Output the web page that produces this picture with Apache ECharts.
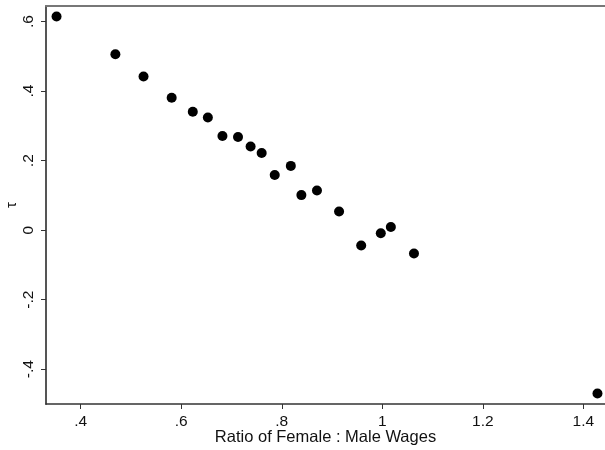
<!DOCTYPE html>
<html>
<head>
<meta charset="utf-8">
<script src="https://cdn.jsdelivr.net/npm/echarts@6/dist/echarts.min.js"></script>
<style>html,body{margin:0;padding:0;background:#fff}#c{width:605px;height:450px}</style>
</head>
<body>
<div id="c"></div>
<script>
const ratio = [0.352, 0.469, 0.525, 0.581, 0.623, 0.653, 0.682, 0.713, 0.738, 0.760, 0.786, 0.818, 0.839, 0.870, 0.914, 0.958, 0.997, 1.017, 1.063, 1.428];
const tau   = [0.615, 0.506, 0.442, 0.381, 0.341, 0.324, 0.271, 0.268, 0.241, 0.222, 0.159, 0.185, 0.101, 0.114, 0.054, -0.044, -0.009, 0.009, -0.067, -0.470];
const xTicks = [0.4, 0.6, 0.8, 1.0, 1.2, 1.4];
const yTicks = [-0.4, -0.2, 0, 0.2, 0.4, 0.6];
const xTitle = 'Ratio of Female : Male Wages';
const yTitle = 'τ';

function fmt(v) {
  let s = (Math.round(v * 10) / 10).toString();
  return s.replace(/^0\./, '.').replace(/^-0\./, '-.');
}

const chart = echarts.init(document.getElementById('c'), null, {renderer: 'canvas'});
const font = 'Liberation Sans, Arial, sans-serif';
chart.setOption({
  animation: false,
  backgroundColor: '#fff',
  grid: {left: 46, right: 0, top: 6, bottom: 46, containLabel: false, outerBoundsMode: 'none'},
  xAxis: [{
    type: 'value', min: 0.331, max: 1.443,
    name: xTitle, nameLocation: 'middle', nameGap: 25, nameMoveOverlap: false,
    nameTextStyle: {fontFamily: font, fontSize: 16.5, color: '#111'},
    axisLine: {show: true, onZero: false, lineStyle: {color: '#333', width: 1.5}},
    axisTick: {show: true, length: 5, lineStyle: {color: '#333'}, customValues: xTicks},
    axisLabel: {customValues: xTicks, formatter: fmt, fontFamily: font, fontSize: 15.5, color: '#111', margin: 10},
    splitLine: {show: false}
  }, {
    type: 'value', position: 'top', min: 0.331, max: 1.443,
    axisLine: {show: true, onZero: false, lineStyle: {color: '#777', width: 2}},
    axisTick: {show: false}, axisLabel: {show: false}, splitLine: {show: false}
  }],
  yAxis: {
    type: 'value', min: -0.5, max: 0.645,
    name: yTitle, nameLocation: 'middle', nameGap: 27, nameRotate: 90, nameMoveOverlap: false,
    nameTextStyle: {fontFamily: font, fontSize: 15, color: '#111'},
    axisLine: {show: true, onZero: false, lineStyle: {color: '#555', width: 2}},
    axisTick: {show: true, length: 5, lineStyle: {color: '#333'}, customValues: yTicks},
    axisLabel: {customValues: yTicks, formatter: fmt, rotate: 90, fontFamily: font, fontSize: 15.5, color: '#111', margin: 9},
    splitLine: {show: false}
  },
  series: [{
    type: 'scatter',
    data: ratio.map((x, i) => [x, tau[i]]),
    symbol: 'circle', symbolSize: 10,
    itemStyle: {color: '#000', opacity: 1}
  }]
});
</script>
</body>
</html>
